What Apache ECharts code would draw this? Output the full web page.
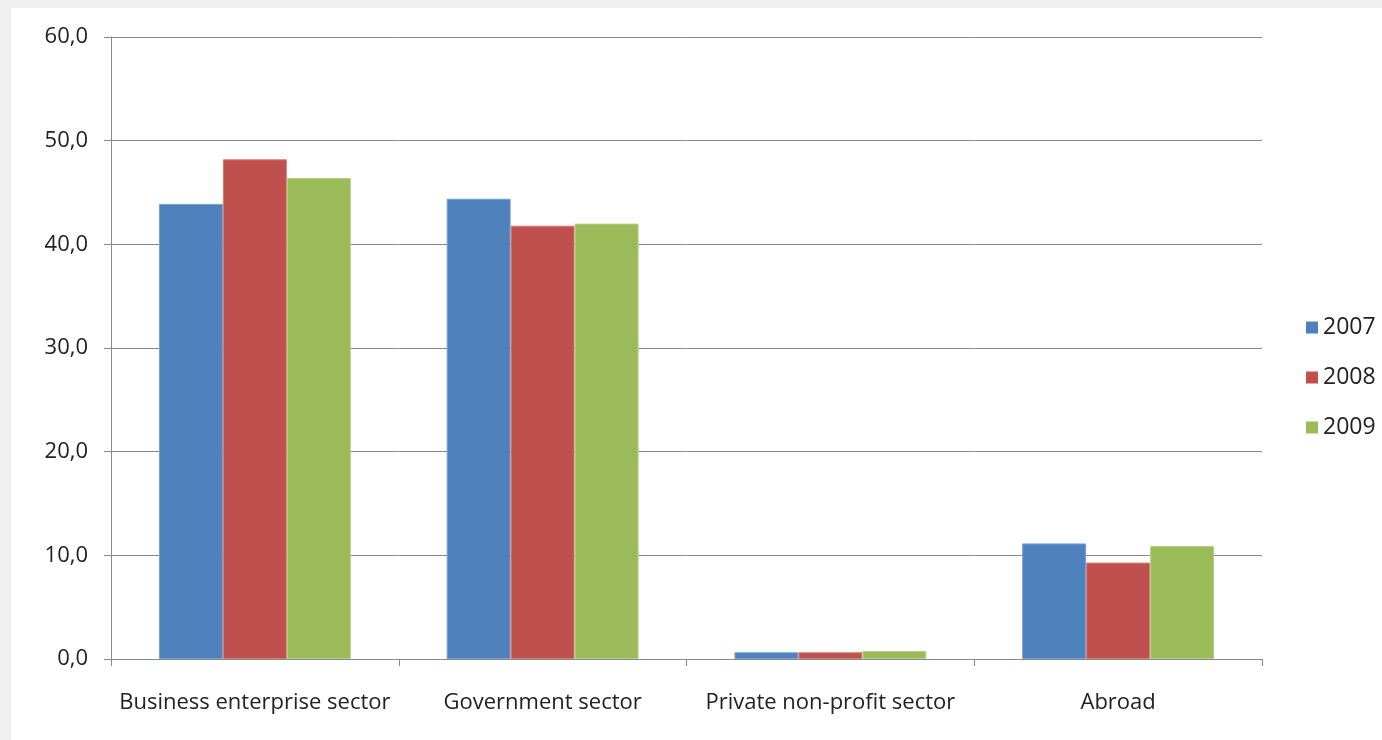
<!DOCTYPE html>
<html>
<head>
<meta charset="utf-8">
<script src="https://cdn.jsdelivr.net/npm/echarts@6/dist/echarts.min.js"></script>
<style>
html,body{margin:0;padding:0;background:#f0f0f0;width:1382px;height:740px;overflow:hidden;}
#c{position:absolute;left:11px;top:8px;width:1371px;height:732px;background:#fff;}
</style>
</head>
<body>
<div id="c"></div>
<script>
const categories = ['Business enterprise sector', 'Government sector', 'Private non-profit sector', 'Abroad'];
const years = ['2007', '2008', '2009'];
const values2007 = [43.9, 44.4, 0.65, 11.15];
const values2008 = [48.2, 41.8, 0.65, 9.3];
const values2009 = [46.4, 42.0, 0.77, 10.9];
const yTicks = { min: 0, max: 60, interval: 10 };

const colors = ['#4F81BD', '#C0504D', '#9BBB59'];
const borders = ['#7A9FD0', '#D47C7A', '#B7D086'];
const seriesData = [values2007, values2008, values2009];

const chart = echarts.init(document.getElementById('c'));
chart.setOption({
  animation: false,
  textStyle: { fontFamily: 'Open Sans', color: '#222' },
  grid: { left: 100, top: 29, right: 120, bottom: 81 },
  legend: {
    orient: 'vertical',
    left: 1290,
    top: 303,
    padding: 5,
    itemWidth: 12,
    itemHeight: 12,
    itemGap: 27,
    icon: 'rect',
    itemStyle: { borderWidth: 0 },
    textStyle: { fontSize: 23, color: '#222', fontFamily: 'Open Sans' },
    data: years
  },
  xAxis: {
    type: 'category',
    data: categories,
    axisLine: { lineStyle: { color: '#8a8a8a', width: 1 } },
    axisTick: { show: true, length: 7, lineStyle: { color: '#8a8a8a' } },
    axisLabel: { fontSize: 22, color: '#222', margin: 33, interval: 0 }
  },
  yAxis: {
    type: 'value',
    min: yTicks.min, max: yTicks.max, interval: yTicks.interval,
    axisLine: { show: true, lineStyle: { color: '#8a8a8a', width: 1 } },
    axisTick: { show: true, length: 7, lineStyle: { color: '#8a8a8a' } },
    splitLine: { lineStyle: { color: '#8a8a8a', width: 1 } },
    axisLabel: { fontSize: 22, color: '#222', margin: 23, formatter: v => v.toFixed(1).replace('.', ',') }
  },
  series: years.map((y, i) => ({
    name: y,
    type: 'bar',
    data: seriesData[i],
    barGap: '0%',
    barCategoryGap: '33.3%',
    itemStyle: { color: colors[i], borderColor: borders[i], borderWidth: 1 }
  }))
});
</script>
</body>
</html>
